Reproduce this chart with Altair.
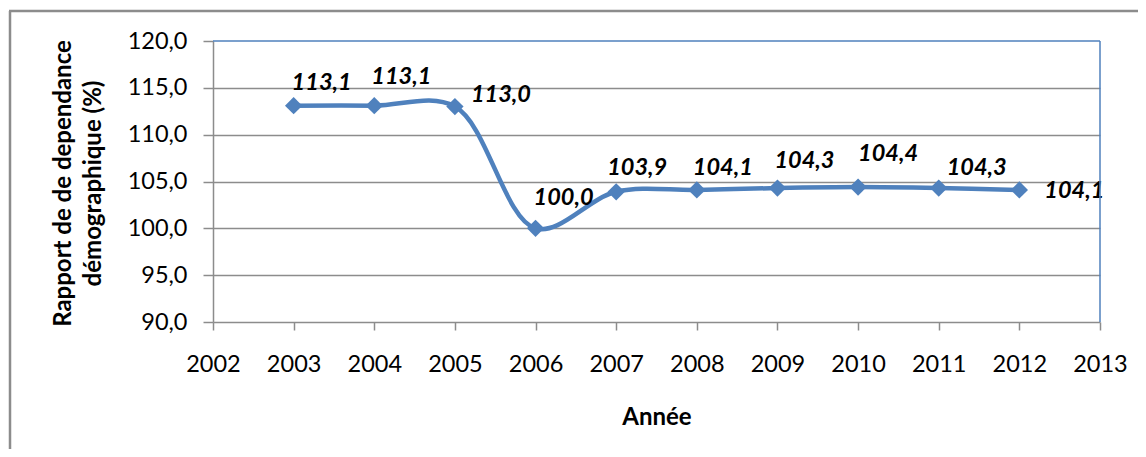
import altair as alt
import pandas as pd

years = [2003, 2004, 2005, 2006, 2007, 2008, 2009, 2010, 2011, 2012]
values = [113.1, 113.1, 113.0, 100.0, 103.9, 104.1, 104.3, 104.4, 104.3, 104.1]
y_ticks = [90, 95, 100, 105, 110, 115, 120]
x_ticks = list(range(2002, 2014))

# label offsets (style only), one per point
label_dx = [28, 27, 46, 28, 21, 26, 27, 30, 38, 55]
label_dy = [-23, -29, -12, -30, -24, -22, -27, -33, -20, 1]

W, H = 887, 281
BLUE = "#4F81BD"
GRAY = "#8C8C8C"
FONT = "Lato"

df = pd.DataFrame({"year": years, "v": values})
base = alt.Chart(df).transform_calculate(
    label="replace(format(datum.v, '.1f'), '.', ',')"
)

x = alt.X(
    "year:Q",
    scale=alt.Scale(domain=[2002, 2013], nice=False, zero=False),
    axis=alt.Axis(
        values=x_ticks, format="d", title="Année", grid=False,
        tickSize=8, labelPadding=22, labelFlush=False, labelOverlap=False,
        titleY=95, titleBaseline="middle",
    ),
)
y = alt.Y(
    "v:Q",
    scale=alt.Scale(domain=[90, 120], nice=False, zero=False),
    axis=alt.Axis(
        values=y_ticks,
        labelExpr="replace(format(datum.value, '.1f'), '.', ',')",
        title=["Rapport de de dependance", "démographique (%)"],
        tickSize=10, labelPadding=16, labelFlush=False, labelOverlap=False,
        titleX=-150, titleY=142, titleBaseline="middle", titleAlign="center",
        titleLineHeight=30,
        gridColor={"condition": {"test": "datum.value == 120 || datum.value == 90", "value": "transparent"}, "value": GRAY},
    ),
)

line = base.mark_line(color=BLUE, strokeWidth=4.5, interpolate="catmull-rom").encode(x=x, y=y)
points = base.mark_point(shape="diamond", filled=True, color=BLUE, size=300, opacity=1).encode(x=x, y=y)

labels = []
for i, yr in enumerate(years):
    labels.append(
        base.transform_filter(f"datum.year == {yr}").mark_text(
            font=FONT, fontSize=23.5, fontWeight="bold", fontStyle="italic",
            color="black", dx=label_dx[i], dy=label_dy[i], align="center", baseline="middle",
        ).encode(x=x, y=y, text="label:N")
    )

one = alt.Data(values=[{}])
top_border = alt.Chart(one).mark_rule(color=BLUE, strokeWidth=1.5).encode(
    x=alt.value(0), x2=alt.value(W), y=alt.value(0))
right_border = alt.Chart(one).mark_rule(color=BLUE, strokeWidth=1.5).encode(
    x=alt.value(W), y=alt.value(0), y2=alt.value(H))
outer_left = alt.Chart(one).mark_rule(color=GRAY, strokeWidth=2.5).encode(
    x=alt.value(-203), y=alt.value(-30), y2=alt.value(430))
outer_top = alt.Chart(one).mark_rule(color=GRAY, strokeWidth=2.5).encode(
    x=alt.value(-204), x2=alt.value(945), y=alt.value(-30))

chart = alt.layer(
    line, points, *labels, top_border, right_border, outer_left, outer_top
).properties(
    width=W, height=H,
    autosize=alt.AutoSizeParams(type="none"),
    padding={"left": 205, "top": 33, "right": 38, "bottom": 127},
).configure_view(stroke=None).configure_axis(
    labelFont=FONT, labelFontSize=23.5, labelColor="black",
    titleFont=FONT, titleFontSize=24, titleFontWeight="bold", titleColor="black",
    domainColor=GRAY, domainWidth=1.5, tickColor=GRAY, tickWidth=1.5,
    gridWidth=1.5,
)

chart.save("out.html", embed_options={"renderer": "svg", "actions": False})
